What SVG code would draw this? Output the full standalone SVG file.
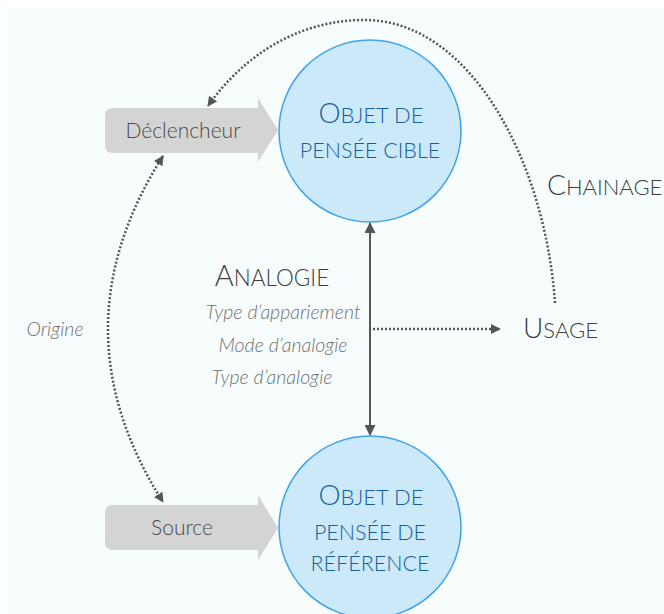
<svg xmlns="http://www.w3.org/2000/svg" width="664" height="614" viewBox="0 0 664 614">
  <defs>
    <marker id="tip" viewBox="0 0 10 10" refX="9" refY="5" markerWidth="10" markerHeight="10" markerUnits="userSpaceOnUse" orient="auto-start-reverse">
      <path d="M0,0 L10,5 L0,10 Z" fill="#555"/>
    </marker>
    <marker id="tipBig" viewBox="0 0 10 10" refX="9" refY="5" markerWidth="12" markerHeight="11" markerUnits="userSpaceOnUse" orient="auto-start-reverse">
      <path d="M0,0 L10,5 L0,10 Z" fill="#555"/>
    </marker>
  </defs>
  <style>
    .bg { fill: #f7fcfd; }
    .circle { fill: #cce9f9; stroke: #3ea3ef; stroke-width: 1.5; }
    .ctext { font-family: "Lato", "Open Sans", sans-serif; font-weight: 300; fill: #135f9e; text-anchor: middle; }
    .box { fill: #d4d4d4; }
    .btext { font-family: "Lato", "Open Sans", sans-serif; font-weight: 300; font-size: 21px; fill: #4a4a4a; text-anchor: middle; }
    .label { font-family: "Lato", "Open Sans", sans-serif; font-weight: 300; fill: #3c3c3c; }
    .ital { font-family: "Lato", "Open Sans", sans-serif; font-weight: 300; font-style: italic; font-size: 19.5px; fill: #707070; text-anchor: middle; }
    .dotted { fill: none; stroke: #555; stroke-width: 2.5; stroke-dasharray: 2 2; }
    .solid { fill: none; stroke: #555; stroke-width: 2; }
  </style>

  <rect x="0" y="0" width="664" height="614" fill="#ffffff"/>
  <rect class="bg" x="8" y="8" width="656" height="606"/>

  <g id="connectors">
    <!-- Chaînage loop: Usage back to Déclencheur -->
    <path class="dotted" d="M555,303 C545,160 470,22 367,20 C295,19 240,60 208,106" marker-end="url(#tip)"/>
    <!-- Origine: Déclencheur <-> Source -->
    <path class="dotted" d="M163,156 Q53,329 163,502" marker-start="url(#tip)" marker-end="url(#tip)"/>
    <!-- Analogie: cible <-> référence -->
    <path class="solid" d="M370,223 L370,435" marker-start="url(#tipBig)" marker-end="url(#tipBig)"/>
    <!-- Analogie -> Usage -->
    <path class="dotted" d="M373,329 L500,329" marker-end="url(#tip)"/>
  </g>

  <g id="declencheur">
    <path class="box" d="M113,108 L258,108 L258,98 L278,130 L258,162 L258,153 L113,153 Q105,153 105,145 L105,116 Q105,108 113,108 Z"/>
    <text class="btext" x="183" y="138">Déclencheur</text>
  </g>

  <g id="source">
    <path class="box" d="M113,505 L258,505 L258,495 L278,528 L258,560 L258,550 L113,550 Q105,550 105,542 L105,513 Q105,505 113,505 Z"/>
    <text class="btext" x="182" y="535">Source</text>
  </g>

  <g id="cible">
    <circle class="circle" cx="370" cy="131" r="91"/>
    <text class="ctext" x="371" y="123"><tspan font-size="28">O</tspan><tspan font-size="22">BJET DE</tspan></text>
    <text class="ctext" x="370" y="158" font-size="21.5">PENSÉE CIBLE</text>
  </g>

  <g id="reference">
    <circle class="circle" cx="370" cy="527" r="91"/>
    <text class="ctext" x="371" y="505"><tspan font-size="28">O</tspan><tspan font-size="22">BJET DE</tspan></text>
    <text class="ctext" x="370" y="540" font-size="21.5">PENSÉE DE</text>
    <text class="ctext" x="370" y="571" font-size="21.5">RÉFÉRENCE</text>
  </g>

  <g id="analogie">
    <text class="label" x="272" y="286" text-anchor="middle"><tspan font-size="29">A</tspan><tspan font-size="22.5">NALOGIE</tspan></text>
    <text class="ital" x="283" y="319">Type d’appariement</text>
    <text class="ital" x="283" y="352">Mode d’analogie</text>
    <text class="ital" x="272" y="384">Type d’analogie</text>
  </g>

  <g id="usage">
    <text class="label" x="523" y="338"><tspan font-size="28">U</tspan><tspan font-size="22">SAGE</tspan></text>
  </g>

  <g id="chainage">
    <text class="label" x="547" y="195"><tspan font-size="28">C</tspan><tspan font-size="22">HAINAGE</tspan></text>
  </g>

  <g id="origine">
    <text class="ital" x="55" y="336" font-size="20.5">Origine</text>
  </g>
</svg>
